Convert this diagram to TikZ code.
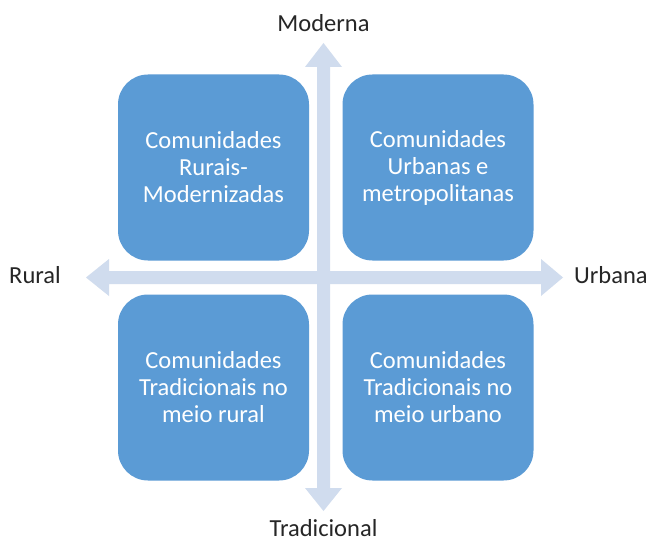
\documentclass[tikz,border=0pt]{standalone}
\usepackage{fontspec}
\setmainfont{Carlito}
\definecolor{boxblue}{HTML}{5B9BD5}
\definecolor{axisblue}{HTML}{D0DCEE}
\definecolor{labelgray}{HTML}{262626}
\begin{document}
\begin{tikzpicture}[x=1pt,y=-1pt,
  quad/.style={fill=boxblue, draw=none, rounded corners=30pt, text=white,
    minimum width=191pt, minimum height=186pt, inner sep=0pt,
    align=center, font=\fontsize{24.5}{27}\selectfont},
  axlabel/.style={text=labelgray, anchor=base, inner sep=0pt,
    font=\fontsize{24.5}{27}\selectfont}]
\useasboundingbox (0,0) rectangle (649,543);
\fill[white] (0,0) rectangle (649,543);
% axes
\fill[axisblue] (317,67) -- (305,67) -- (323.5,43) -- (342,67) -- (330,67)
  -- (330,488) -- (342,488) -- (323.5,511) -- (305,488) -- (317,488) -- cycle;
\fill[axisblue] (109,271) -- (109,259) -- (86,277.5) -- (109,296) -- (109,284)
  -- (541,284) -- (541,296) -- (563,277.5) -- (541,259) -- (541,271) -- cycle;
% boxes
\node[quad] (tl) at (213.5,167.5) {Comunidades\\Rurais-\\Modernizadas};
\node[quad] (tr) at (438,167.5) {Comunidades\\Urbanas e\\metropolitanas};
\node[quad] (bl) at (213.5,387.5) {Comunidades\\Tradicionais no\\meio rural};
\node[quad] (br) at (438,387.5) {Comunidades\\Tradicionais no\\meio urbano};
% labels
\node[axlabel] (mod) at (323.5,32) {Moderna};
\node[axlabel] (tra) at (323.5,536.5) {Tradicional};
\node[axlabel, anchor=base west] (rur) at (9,283) {Rural};
\node[axlabel, anchor=base west] (urb) at (574,283) {Urbana};
\end{tikzpicture}
\end{document}
